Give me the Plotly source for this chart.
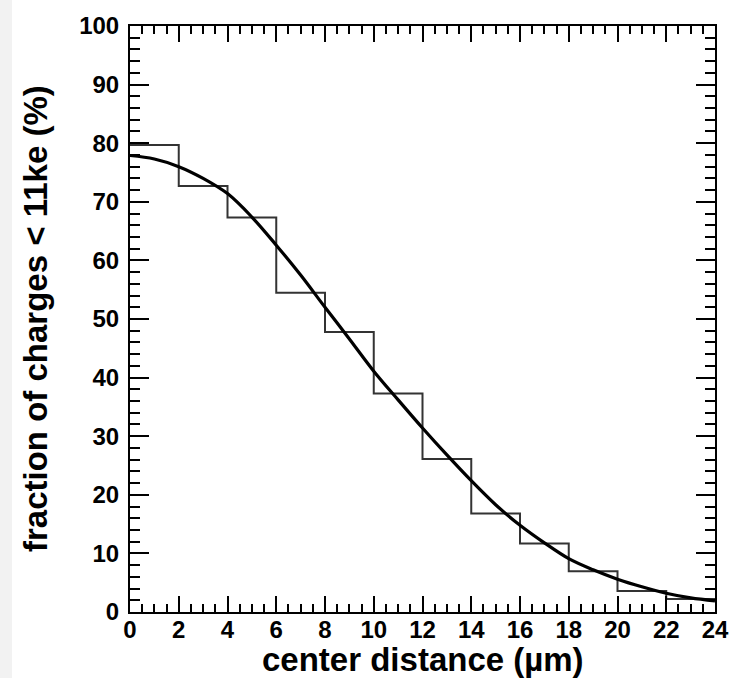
import plotly.graph_objects as go

# Histogram: bin edges (µm) and fraction (%) per 2 µm bin
bin_edges = [0, 2, 4, 6, 8, 10, 12, 14, 16, 18, 20, 22, 24]
bin_values = [79.7, 72.7, 67.3, 54.5, 47.8, 37.3, 26.1, 16.8, 11.7, 6.95, 3.6, 2.2]

# Smooth fit curve
fit_x = [0, 1, 2, 3, 4, 5, 6, 7, 8, 9, 10, 11, 12, 13, 14, 15, 16, 17, 18, 19, 20, 21, 22, 23, 24]
fit_y = [77.9, 77.3, 76.0, 74.0, 71.4, 67.4, 62.6, 57.5, 52.0, 46.6, 41.1, 36.2, 31.4,
         26.8, 22.4, 18.3, 14.8, 11.8, 9.1, 7.2, 5.6, 4.3, 3.2, 2.4, 1.9]

x_tick_vals = [0, 2, 4, 6, 8, 10, 12, 14, 16, 18, 20, 22, 24]
y_tick_vals = [0, 10, 20, 30, 40, 50, 60, 70, 80, 90, 100]

x_title = "center distance (µm)"
y_title = "fraction of charges < 11ke (%)"

FONT = "Liberation Sans"

fig = go.Figure()
fig.add_trace(go.Scatter(
    x=bin_edges, y=bin_values + [bin_values[-1]],
    mode="lines", line=dict(shape="hv", color="#333333", width=2),
    showlegend=False, hoverinfo="skip"))
fig.add_trace(go.Scatter(
    x=fit_x, y=fit_y, mode="lines",
    line=dict(shape="spline", color="black", width=3.2),
    showlegend=False))

axis_common = dict(
    showline=True, linecolor="black", linewidth=2, mirror="allticks",
    ticks="inside", tickcolor="black", tickwidth=2,
    showgrid=False, zeroline=False,
    tickfont=dict(family=FONT, size=24, color="black", weight="bold"),
)

fig.update_xaxes(range=[0, 24], tickvals=x_tick_vals, ticklen=16,
                 minor=dict(dtick=0.5, ticklen=8, tickwidth=2, tickcolor="black", ticks="inside"),
                 ticklabelstandoff=-5,
                 **axis_common)
fig.update_yaxes(range=[0, 100], tickvals=y_tick_vals, ticklen=19,
                 minor=dict(dtick=2, ticklen=10, tickwidth=2, tickcolor="black", ticks="inside"),
                 ticklabelstandoff=4,
                 **axis_common)

fig.add_annotation(text=x_title, xref="paper", yref="paper", x=0.5, y=0,
                   yshift=-47, showarrow=False, xanchor="center", yanchor="middle",
                   font=dict(family=FONT, size=33, color="black", weight="bold"))
fig.add_annotation(text=y_title, xref="paper", yref="paper", x=0, y=0.5,
                   xshift=-95, showarrow=False, textangle=-90, xanchor="center", yanchor="middle",
                   font=dict(family=FONT, size=33, color="black", weight="bold"))

# light gray strip at the left edge of the picture
fig.add_shape(type="rect", xref="paper", yref="paper", xsizemode="pixel", ysizemode="pixel",
              xanchor=0, yanchor=0, x0=-131, x1=-118, y0=-80, y1=630,
              fillcolor="#f2f2f2", line=dict(width=0), layer="below")

fig.update_layout(
    width=741, height=678,
    margin=dict(l=130, r=15, t=18, b=66),
    paper_bgcolor="white", plot_bgcolor="white",
)

fig.write_html("out.html")
